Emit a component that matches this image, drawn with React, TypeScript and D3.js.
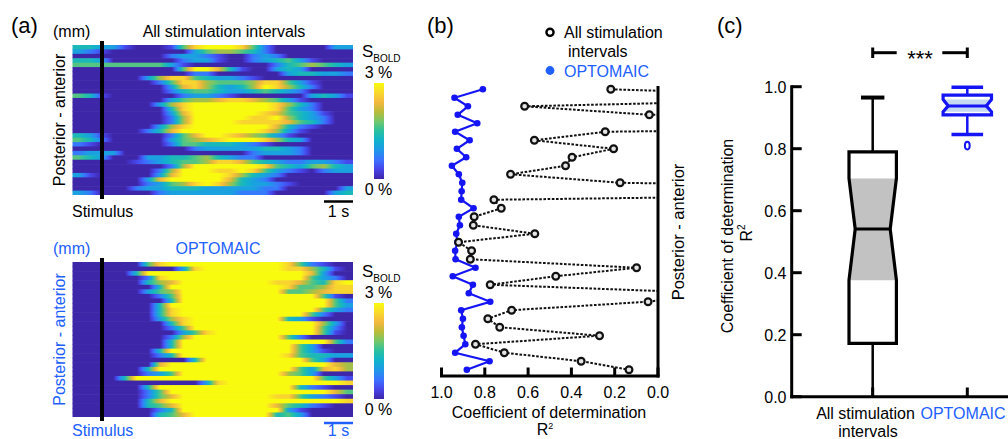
import React from "react";
import * as d3 from "d3";

const FONT = "'Liberation Sans', Arial, Helvetica, sans-serif";
const TEXT_BLUE = "#2160ff";
const MARK_BLUE = "#1414f5";

// Heatmap rows (posterior..anterior), 24 time bins over ~9.7 s; digit 0..9 = S_BOLD 0 %..3 %
const ALL_ROWS = [
  "443310001589998520000033",
  "321000000035665420000000",
  "000000002332100232000000",
  "443000000233100234531000",
  "555555553100000002456543",
  "000000000599741003430000",
  "000000000022000000344332",
  "000000368854332100000000",
  "000000025886555688531000",
  "000000003786434698642000",
  "000000002455433454320000",
  "541000000233210000003431",
  "000000003566788765310000",
  "000000036899999998642000",
  "000000004899999998532000",
  "000000003799999987543100",
  "000000002699999889643200",
  "000000002699998888754200",
  "000000036899999997421000",
  "000000247999999986310000",
  "431000002579987653100000",
  "542000003567899986430000",
  "210000002554443210000000",
  "000000000023333344320000",
  "233300000000000233320000",
  "543000334456432200000000",
  "000001234556887543223321",
  "000000002699999985435643",
  "000000026999889853210233",
  "310000037999986432000000",
  "000000379999974320000000",
  "000000235689864332100000",
  "000002334443333322000003",
  "320000023333332220000034",
];
const OPTO_ROWS = [
  "000000589999999999852100",
  "000000000389999999886410",
  "000004999999999999997300",
  "000000289999999999995320",
  "000000467999999998875489",
  "000000049999999999855688",
  "000000356999999999556788",
  "000000025999999999999510",
  "000000004999999999999952",
  "000000049999999999999953",
  "000000048999999999999532",
  "000000048999999999995200",
  "000000036899999999431000",
  "000000004899999999999630",
  "000000002599999999999520",
  "000000000358999999999510",
  "000000002699999999520000",
  "000000004999999999999952",
  "000000004999999999953000",
  "000000049999999999953100",
  "000000024999999999854433",
  "000000000049999999995300",
  "000000079999999999999976",
  "000000499999999999953786",
  "000000235999999999653000",
  "000049999999999999999531",
  "000000000003899999999998",
  "000000499999999999942100",
  "000000259999999999999975",
  "000000257999999998853210",
  "000000479999999999999998",
  "000000457999999997542100",
  "000000024999999999310000",
  "000000045799999994530000",
];
const PARULA = ["#3e26a8", "#4743e8", "#3b72ff", "#1f98e8", "#11b2cc", "#2ac0a0", "#73c76a", "#bbbc3a", "#f4b83f", "#f9d92c", "#f9fb0e"];

// Panel (b): R² per row (top = first)
const R2_ALL = [0.218, -1.1, 0.616, 0.04, -3.0, 0.244, 0.571, 0.205, 0.397, 0.427, 0.681, 0.175, -2.3, 0.758, 0.724, 0.849, 0.853, 0.569, 0.921, 0.861, 0.867, 0.099, 0.472, 0.775, -0.28, 0.046, 0.676, 0.786, 0.731, 0.27, 0.843, 0.71, 0.355, 0.134];
const R2_OPTO = [0.809, 0.94, 0.878, 0.925, 0.835, 0.937, 0.87, 0.929, 0.886, 0.952, 0.92, 0.904, 0.907, 0.909, 0.852, 0.92, 0.915, 0.932, 0.927, 0.937, 0.935, 0.843, 0.948, 0.855, 0.874, 0.775, 0.909, 0.901, 0.906, 0.898, 0.89, 0.937, 0.778, 0.883];
const R2_TICKS = [1.0, 0.8, 0.6, 0.4, 0.2, 0.0];

// Panel (c)
const C_TICKS = [0, 0.2, 0.4, 0.6, 0.8, 1.0];
const GROUPS = ["All stimulation intervals", "OPTOMAIC"];
// [min, q1, notchLo, median, notchHi, q3, max]
const BOX_ALL = [0, 0.172, 0.376, 0.541, 0.704, 0.79, 0.965];
const BOX_OPTO = [0.846, 0.909, 0.919, 0.938, 0.959, 0.973, 0.998];
const OUTLIERS_OPTO = [0.81];

const parula = d3
  .scaleLinear<string>()
  .domain(PARULA.map((_, i) => i / (PARULA.length - 1)))
  .range(PARULA)
  .interpolate(d3.interpolateRgb)
  .clamp(true);

function Heatmap({ rows, id, x0, x1, y0, y1 }: any) {
  const band = d3.scaleBand<number>().domain(d3.range(rows.length)).range([y0, y1]);
  return (
    <g>
      <defs>
        {rows.map((r: string, i: number) => {
          const v = r.split("").map((d) => +d / 9);
          const n = v.length;
          const stops: [number, number][] = [[0, v[0]]];
          for (let c = 0; c < n - 1; c++) {
            for (let k = 0; k < 4; k++) stops.push([(c + 0.5 + k / 4) / n, v[c] + ((v[c + 1] - v[c]) * k) / 4]);
          }
          stops.push([(n - 0.5) / n, v[n - 1]]);
          stops.push([1, v[n - 1]]);
          return (
            <linearGradient id={`${id}${i}`} key={i} x1="0" x2="1" y1="0" y2="0">
              {stops.map(([o, val], j) => (
                <stop key={j} offset={o} stopColor={parula(val)} />
              ))}
            </linearGradient>
          );
        })}
      </defs>
      {rows.map((_: string, i: number) => (
        <rect
          key={i}
          x={x0}
          y={band(i)}
          width={x1 - x0}
          height={band.bandwidth() + (i < rows.length - 1 ? 0.6 : 0)}
          fill={`url(#${id}${i})`}
        />
      ))}
    </g>
  );
}

function ColorBar({ x, y0, y1, id, color }: any) {
  return (
    <g>
      <defs>
        <linearGradient id={id} x1="0" x2="0" y1="1" y2="0">
          {PARULA.map((c, i) => (
            <stop key={i} offset={i / (PARULA.length - 1)} stopColor={c} />
          ))}
        </linearGradient>
      </defs>
      <rect x={x} y={y0} width={10} height={y1 - y0} fill={`url(#${id})`} />
      <text x={362} y={y0 - 26} fontSize={17} fill={color}>
        S<tspan fontSize={10} dy={5}>BOLD</tspan>
      </text>
      <text x={378.5} y={y0 - 5} fontSize={16} textAnchor="middle" fill={color}>3 %</text>
      <text x={378.5} y={y1 + 16} fontSize={16} textAnchor="middle" fill={color}>0 %</text>
    </g>
  );
}

function HeatPanel({ rows, id, y0, y1, title, color, titleX, labelDy, barDy }: any) {
  const yMid = (y0 + y1) / 2;
  return (
    <g>
      <text x={53} y={y0 - 8} fontSize={16} fill={color}>(mm)</text>
      <text x={titleX} y={y0 - 8} fontSize={16} textAnchor="middle" fill={color}>{title}</text>
      <Heatmap rows={rows} id={id} x0={72.5} x1={353} y0={y0} y1={y1} />
      <line x1={102} x2={102} y1={y0 - 4} y2={y1 + 4} stroke="#000" strokeWidth={4} />
      <text transform={`translate(65,${yMid}) rotate(-90)`} fontSize={16} textAnchor="middle" fill={color}>
        Posterior - anterior
      </text>
      <text x={72} y={y1 + labelDy} fontSize={16} fill={color}>Stimulus</text>
      <line x1={324} x2={353} y1={y1 + barDy} y2={y1 + barDy} stroke={color} strokeWidth={2.5} />
      <text x={338.5} y={y1 + labelDy} fontSize={16} textAnchor="middle" fill={color}>1 s</text>
    </g>
  );
}

export default function App() {
  // Panel b scales
  const xB = d3.scaleLinear().domain([0, 1]).range([658, 441.5]);
  const yB = d3.scaleLinear().domain([0, R2_ALL.length - 1]).range([89.3, 369.7]);
  const lineB = d3
    .line<number>()
    .x((d) => xB(d))
    .y((_, i) => yB(i));

  // Panel c scales
  const yC = d3.scaleLinear().domain([0, 1]).range([396.7, 86.7]);
  const xC = d3.scalePoint<string>().domain(GROUPS).range([872.7, 967.3]);

  const boxPath = (cx: number, s: number[], w: number, nw: number) => {
    const [, q1, nLo, med, nHi, q3] = s;
    return (
      d3.line()([
        [cx - w, yC(q3)],
        [cx + w, yC(q3)],
        [cx + w, yC(nHi)],
        [cx + nw, yC(med)],
        [cx + w, yC(nLo)],
        [cx + w, yC(q1)],
        [cx - w, yC(q1)],
        [cx - w, yC(nLo)],
        [cx - nw, yC(med)],
        [cx - w, yC(nHi)],
      ]) + "Z"
    );
  };
  const notchPath = (cx: number, s: number[], w: number, nw: number) => {
    const [, , nLo, med, nHi] = s;
    return (
      d3.line()([
        [cx - w, yC(nHi)],
        [cx + w, yC(nHi)],
        [cx + nw, yC(med)],
        [cx + w, yC(nLo)],
        [cx - w, yC(nLo)],
        [cx - nw, yC(med)],
      ]) + "Z"
    );
  };

  const Box = ({ cx, s, w, nw, capW, color, notchFill, capStroke }: any) => (
    <g>
      <line x1={cx} x2={cx} y1={yC(s[5])} y2={yC(s[6])} stroke={color} strokeWidth={2.5} />
      <line x1={cx} x2={cx} y1={yC(s[1])} y2={yC(s[0])} stroke={color} strokeWidth={2.5} />
      <line x1={cx - capW} x2={cx + capW} y1={yC(s[6])} y2={yC(s[6])} stroke={color} strokeWidth={capStroke} />
      {s[0] > 0 && (
        <line x1={cx - capW} x2={cx + capW} y1={yC(s[0])} y2={yC(s[0])} stroke={color} strokeWidth={capStroke} />
      )}
      <path d={boxPath(cx, s, w, nw)} fill="#fff" />
      <path d={notchPath(cx, s, w, nw)} fill={notchFill} />
      <path d={boxPath(cx, s, w, nw)} fill="none" stroke={color} strokeWidth={3.2} strokeLinejoin="miter" />
      <line x1={cx - nw} x2={cx + nw} y1={yC(s[3])} y2={yC(s[3])} stroke={color} strokeWidth={3} />
    </g>
  );

  const cxA = xC(GROUPS[0])!;
  const cxO = xC(GROUPS[1])!;

  return (
    <svg
      width={1008}
      height={439}
      style={{ position: "absolute", left: 0, top: 0, background: "#fff" }}
      fontFamily={FONT}
    >
      <rect width={1008} height={439} fill="#fff" />
      {/* Panel a */}
      <text x={11} y={33} fontSize={22}>(a)</text>
      <HeatPanel rows={ALL_ROWS} id="hA" y0={45} y1={195} title="All stimulation intervals" color="#000" titleX={224} labelDy={22} barDy={6.5} />
      <ColorBar x={374} y0={83} y1={179} id="cbA" color="#000" />
      <HeatPanel rows={OPTO_ROWS} id="hO" y0={262} y1={417} title="OPTOMAIC" color={TEXT_BLUE} titleX={218} labelDy={18.5} barDy={6} />
      <ColorBar x={374} y0={303} y1={399} id="cbO" color="#000" />

      {/* Panel b */}
      <text x={427} y={33} fontSize={22}>(b)</text>
      <circle cx={550} cy={32.3} r={3.6} fill="#fff" stroke="#000" strokeWidth={2.4} />
      <text x={564} y={38} fontSize={16}>All stimulation</text>
      <text x={568} y={56.5} fontSize={16}>intervals</text>
      <circle cx={550} cy={70.5} r={4.4} fill={TEXT_BLUE} />
      <text x={564} y={76.5} fontSize={16} fill={TEXT_BLUE}>OPTOMAIC</text>

      <defs>
        <clipPath id="clipB">
          <rect x={420} y={60} width={238} height={330} />
        </clipPath>
      </defs>
      <path d={lineB(R2_OPTO)!} fill="none" stroke={MARK_BLUE} strokeWidth={2.2} />
      {R2_OPTO.map((v, i) => (
        <circle key={i} cx={xB(v)} cy={yB(i)} r={3.3} fill={MARK_BLUE} />
      ))}
      <g clipPath="url(#clipB)">
        <path d={lineB(R2_ALL)!} fill="none" stroke="#111" strokeWidth={2} strokeDasharray="2.6 1.6" />
        {R2_ALL.map((v, i) =>
          v >= 0 ? <circle key={i} cx={xB(v)} cy={yB(i)} r={3.4} fill="#e4e4e4" stroke="#111" strokeWidth={2.2} /> : null
        )}
      </g>
      <line x1={440} x2={659.5} y1={376} y2={376} stroke="#000" strokeWidth={3} />
      <line x1={658} x2={658} y1={86} y2={377.5} stroke="#000" strokeWidth={3} />
      {R2_TICKS.map((t) => (
        <g key={t}>
          <line x1={xB(t)} x2={xB(t)} y1={376} y2={367.5} stroke="#000" strokeWidth={3} />
          <text x={xB(t)} y={398} fontSize={16} textAnchor="middle">{t.toFixed(1)}</text>
        </g>
      ))}
      <text x={549} y={417.5} fontSize={16} textAnchor="middle">Coefficient of determination</text>
      <text x={545} y={434.5} fontSize={16} textAnchor="middle">
        R<tspan fontSize={9} dy={-6}>2</tspan>
      </text>
      <text transform="translate(684,232) rotate(-90)" fontSize={16.5} textAnchor="middle">Posterior - anterior</text>

      {/* Panel c */}
      <text x={717} y={33} fontSize={22}>(c)</text>
      <line x1={cxA} x2={896.7} y1={52.7} y2={52.7} stroke="#000" strokeWidth={3} />
      <line x1={942.3} x2={cxO} y1={52.7} y2={52.7} stroke="#000" strokeWidth={3} />
      <line x1={cxA} x2={cxA} y1={47.5} y2={58} stroke="#000" strokeWidth={3} />
      <line x1={cxO} x2={cxO} y1={47.5} y2={58} stroke="#000" strokeWidth={3} />
      <text x={(cxA + cxO) / 2} y={66} fontSize={22} textAnchor="middle">***</text>

      <Box cx={cxA} s={BOX_ALL} w={23.7} nw={17.5} capW={11.7} color="#000" notchFill="#c2c2c2" capStroke={4} />
      <Box cx={cxO} s={BOX_OPTO} w={24.2} nw={19} capW={15.8} color={MARK_BLUE} notchFill="#c6d9f3" capStroke={3.5} />
      {OUTLIERS_OPTO.map((v, i) => (
        <ellipse key={i} cx={cxO} cy={yC(v)} rx={2.4} ry={3.8} fill="#fff" stroke={MARK_BLUE} strokeWidth={2} />
      ))}

      <line x1={791.7} x2={791.7} y1={85.2} y2={398.2} stroke="#000" strokeWidth={3} />
      <line x1={790.2} x2={1008} y1={396.7} y2={396.7} stroke="#000" strokeWidth={3} />
      {C_TICKS.map((t) => (
        <g key={t}>
          <line x1={791.7} x2={801.7} y1={yC(t)} y2={yC(t)} stroke="#000" strokeWidth={3} />
          <text x={786.5} y={yC(t) + 6} fontSize={16} textAnchor="end">{t.toFixed(1)}</text>
        </g>
      ))}
      {GROUPS.map((g) => (
        <line key={g} x1={xC(g)} x2={xC(g)} y1={396.7} y2={387.5} stroke="#000" strokeWidth={3} />
      ))}
      <text x={865.5} y={418.5} fontSize={16} textAnchor="middle">All stimulation</text>
      <text x={868} y={436.5} fontSize={16} textAnchor="middle">intervals</text>
      <text x={920.5} y={418.5} fontSize={16} fill={TEXT_BLUE}>OPTOMAIC</text>
      <text transform="translate(733,236) rotate(-90)" fontSize={16} textAnchor="middle">Coefficient of determination</text>
      <text transform="translate(752,233) rotate(-90)" fontSize={16} textAnchor="middle">
        R<tspan fontSize={10} dy={-7}>2</tspan>
      </text>
    </svg>
  );
}
